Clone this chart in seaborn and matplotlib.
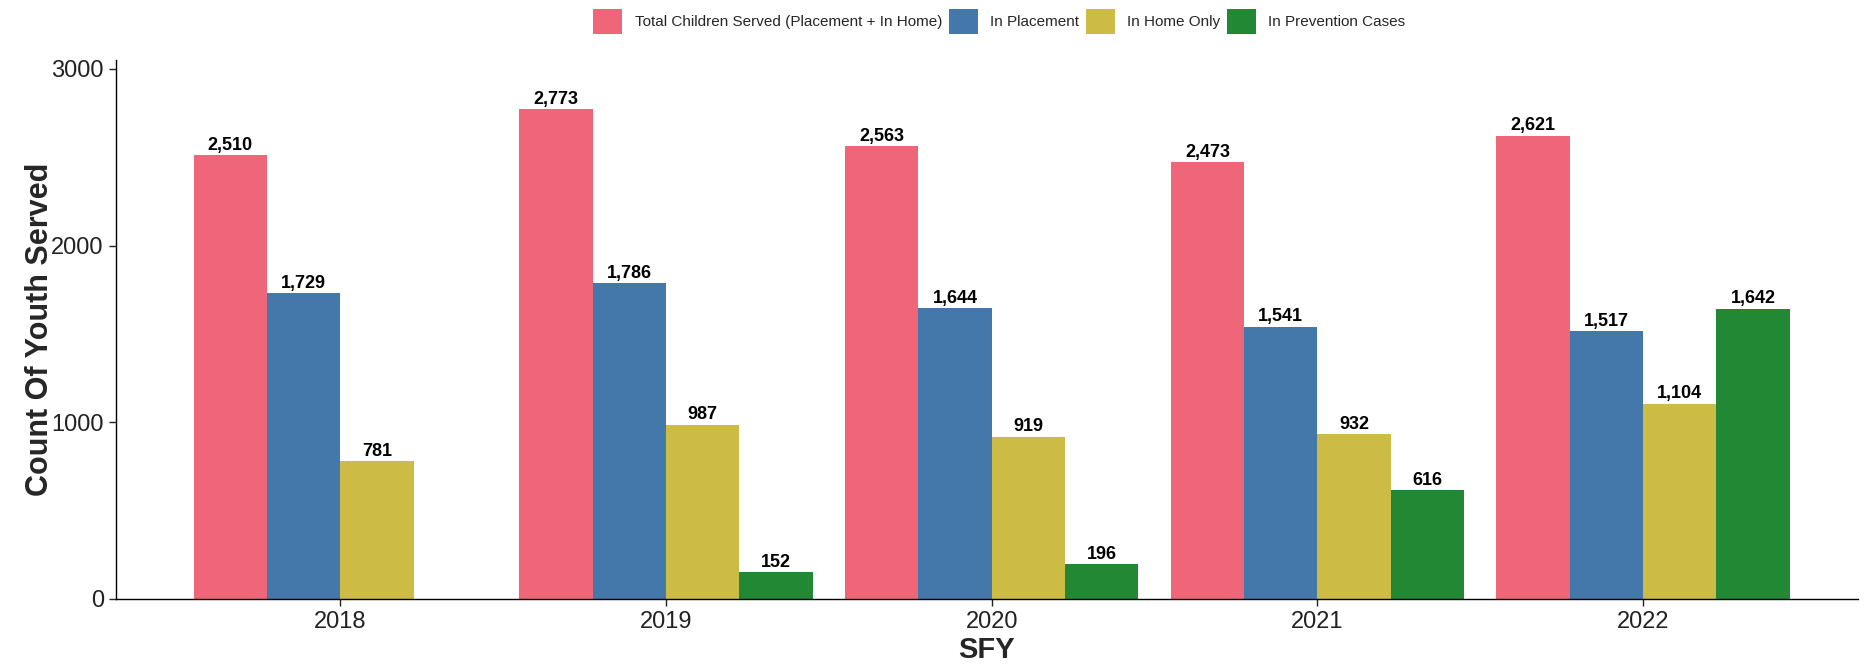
import numpy as np
import pandas as pd
import matplotlib
matplotlib.use("Agg")
import matplotlib.pyplot as plt
import seaborn as sns

# values
years = ["2018", "2019", "2020", "2021", "2022"]
total_served = [2510, 2773, 2563, 2473, 2621]
in_placement = [1729, 1786, 1644, 1541, 1517]
in_home_only = [781, 987, 919, 932, 1104]
in_prevention = [np.nan, 152, 196, 616, 1642]

series_names = ["Total Children Served (Placement + In Home)", "In Placement",
                "In Home Only", "In Prevention Cases"]
colors = ["#EE6677", "#4477AA", "#CCBB44", "#228833"]

df = pd.DataFrame({
    "SFY": years * 4,
    "Group": np.repeat(series_names, len(years)),
    "Count": total_served + in_placement + in_home_only + in_prevention,
})

sns.set_style("white")
plt.rcParams['font.family'] = ['Liberation Sans', 'DejaVu Sans']

fig = plt.figure(figsize=(18.68, 6.67), dpi=100)
ax = fig.add_axes([0.0619, 0.102, 0.9327, 0.808])

sns.barplot(data=df, x="SFY", y="Count", hue="Group", hue_order=series_names,
            order=years, palette=colors, saturation=1, width=0.9, gap=0,
            linewidth=0, errorbar=None, ax=ax)

for cont in ax.containers:
    ax.bar_label(cont, labels=[f"{v:,.0f}" if not np.isnan(v) else "" for v in cont.datavalues],
                 padding=1, fontsize=13, fontweight='bold', color='black')

ax.set_xlim(-0.69, 4.66)
ax.set_ylim(0, 3050)
ax.set_yticks([0, 1000, 2000, 3000])
ax.tick_params(axis='both', labelsize=17, colors='#222222', length=5, width=1,
               direction='out', left=True, bottom=True)
ax.set_xlabel("SFY", fontsize=21, fontweight='bold', labelpad=2)
ax.set_ylabel("Count Of Youth Served", fontsize=22, fontweight='bold', labelpad=-3)
sns.despine(ax=ax)
for s in ["left", "bottom"]:
    ax.spines[s].set_color('black')
    ax.spines[s].set_linewidth(1)

handles, labels = ax.get_legend_handles_labels()
ax.get_legend().remove()
fig.legend(handles, labels, loc='center', bbox_to_anchor=(0.535, 0.968), ncol=4,
           frameon=False, prop={'family': ['Liberation Sans Narrow', 'Liberation Sans'], 'size': 11},
           handlelength=1.9, handleheight=2.2, handletextpad=0.8, columnspacing=0.45)

fig.savefig("out.png", dpi=100)
